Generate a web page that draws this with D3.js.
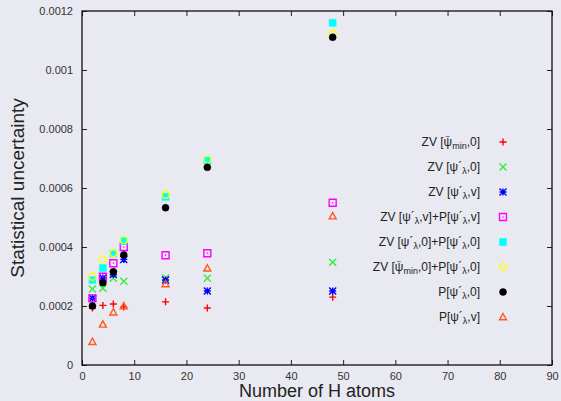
<!DOCTYPE html>
<html>
<head>
<meta charset="utf-8">
<script src="https://cdn.jsdelivr.net/npm/d3@7"></script>
<style>
  body { margin: 0; background: #e9e9f1; }
  svg { display: block; font-family: "Liberation Sans", Arial, sans-serif; }
</style>
</head>
<body>
<div id="chart"></div>
<script>
// x values: number of H atoms
var hAtoms = [2, 4, 6, 8, 16, 24, 48]

// one array per series (statistical uncertainty)
var zvMin0     = [0.000193, 0.000202, 0.000207, 0.000197, 0.000214, 0.000193, 0.000230]
var zvLam0     = [0.000258, 0.000260, 0.000294, 0.000284, 0.000295, 0.000294, 0.000348]
var zvLamV     = [0.000226, 0.000295, 0.000307, 0.000358, 0.000288, 0.000251, 0.000251]
var zvLamVP    = [0.000226, 0.000299, 0.000345, 0.000400, 0.000372, 0.000379, 0.000550]
var zvLam0P    = [0.000288, 0.000329, 0.000378, 0.000420, 0.000570, 0.000693, 0.001160]
var zvMin0P    = [0.000299, 0.000358, 0.000379, 0.000424, 0.000577, 0.000697, 0.001122]
var pLam0      = [0.000200, 0.000279, 0.000316, 0.000373, 0.000533, 0.000670, 0.001111]
var pLamV      = [0.000079, 0.000138, 0.000179, 0.000200, 0.000275, 0.000328, 0.000505]

// "~" before ψ marks a tilde accent, _{..} is a subscript
var seriesNames = [
  "ZV [~ψ_{min},0]",
  "ZV [ψ´_{λ},0]",
  "ZV [ψ´_{λ},v]",
  "ZV [ψ´_{λ},v]+P[ψ´_{λ},v]",
  "ZV [ψ´_{λ},0]+P[ψ´_{λ},0]",
  "ZV [~ψ_{min},0]+P[ψ´_{λ},0]",
  "P[ψ´_{λ},0]",
  "P[ψ´_{λ},v]"
]
var seriesValues = [zvMin0, zvLam0, zvLamV, zvLamVP, zvLam0P, zvMin0P, pLam0, pLamV]
var markerTypes = ["plus", "cross", "star", "boxOpen", "boxFilled", "circleOpen", "circleFilled", "triangleOpen"]
var colors = ["#ff0000", "#33ee33", "#0000ff", "#ff00ff", "#00ffff", "#ffff00", "#000000", "#ff5a1e"]

var xTicks = [0, 10, 20, 30, 40, 50, 60, 70, 80, 90]
var yTicks = [0, 0.0002, 0.0004, 0.0006, 0.0008, 0.001, 0.0012]

// dimensions
var W = 561, H = 401
var margin = {top: 11, right: 9, bottom: 36, left: 82}
var width = W - margin.left - margin.right
var height = H - margin.top - margin.bottom

var svg = d3.select("#chart").append("svg")
  .attr("width", W)
  .attr("height", H)

var g = svg.append("g").attr("transform", `translate(${margin.left},${margin.top})`)

var x = d3.scaleLinear().domain([0, 90]).range([0, width])
var y = d3.scaleLinear().domain([0, 0.0012]).range([height, 0])

// axes with inward ticks
var tickLen = 5
g.append("g")
  .attr("transform", `translate(0,${height})`)
  .call(d3.axisBottom(x).tickValues(xTicks).tickSizeInner(-tickLen).tickSizeOuter(0).tickPadding(7).tickFormat(d3.format("d")))
g.append("g")
  .call(d3.axisTop(x).tickValues(xTicks).tickSizeInner(-tickLen).tickSizeOuter(0).tickFormat(""))
g.append("g")
  .call(d3.axisLeft(y).tickValues(yTicks).tickSizeInner(-tickLen).tickSizeOuter(0).tickPadding(9).tickFormat(d => d === 0 ? "0" : String(+d.toFixed(4))))
g.append("g")
  .attr("transform", `translate(${width},0)`)
  .call(d3.axisRight(y).tickValues(yTicks).tickSizeInner(-tickLen).tickSizeOuter(0).tickFormat(""))

g.selectAll(".domain").remove()
g.selectAll(".tick line").attr("stroke", "#222").attr("stroke-width", 1)
g.selectAll(".tick text").attr("fill", "#333").style("font-size", "11px")

// frame
g.append("rect")
  .attr("width", width)
  .attr("height", height)
  .attr("fill", "none")
  .attr("stroke", "#111")
  .attr("stroke-width", 1.3)

// axis titles
svg.append("text")
  .attr("x", margin.left + width / 2)
  .attr("y", H - 4)
  .attr("text-anchor", "middle")
  .attr("fill", "#222")
  .style("font-size", "18px")
  .text("Number of H atoms")

svg.append("text")
  .attr("transform", `translate(24,${margin.top + height / 2}) rotate(-90)`)
  .attr("text-anchor", "middle")
  .attr("fill", "#222")
  .style("font-size", "19px")
  .text("Statistical uncertainty")

// marker shapes
function markerPath(type, s) {
  switch (type) {
    case "plus": return `M${-s},0H${s}M0,${-s}V${s}`
    case "cross": return `M${-s},${-s}L${s},${s}M${-s},${s}L${s},${-s}`
    case "star": return `M${-s},0H${s}M0,${-s}V${s}M${-s},${-s}L${s},${s}M${-s},${s}L${s},${-s}`
    case "boxOpen": return `M${-s},${-s}H${s}V${s}H${-s}Z M-0.5,0H0.5`
    case "boxFilled": return `M${-s},${-s}H${s}V${s}H${-s}Z`
    case "circleOpen": return d3.symbol(d3.symbolCircle, Math.PI * s * s)()
    case "circleFilled": return d3.symbol(d3.symbolCircle, Math.PI * s * s)()
    case "triangleOpen": return `M0,${-s}L${s},${s * 0.8}L${-s},${s * 0.8}Z`
  }
}
function isFilled(type) { return type === "boxFilled" || type === "circleFilled" }

function drawMarker(sel, type, color) {
  sel.append("path")
    .attr("d", markerPath(type, 3.5))
    .attr("fill", isFilled(type) ? color : "none")
    .attr("stroke", color)
    .attr("stroke-width", isFilled(type) ? 0.5 : 1.4)
}

// points
seriesValues.forEach(function(vals, i) {
  var sg = g.append("g")
  vals.forEach(function(v, j) {
    var p = sg.append("g").attr("transform", `translate(${x(hAtoms[j])},${y(v)})`)
    drawMarker(p, markerTypes[i], colors[i])
  })
})

// legend labels: subscripts and a tilde over psi
function addLabel(textSel, label) {
  var parts = label.split(/(_\{[^}]*\}|~ψ)/)
  parts.forEach(function(part) {
    if (!part) return
    if (part.startsWith("_{")) {
      textSel.append("tspan").attr("baseline-shift", "-30%").style("font-size", "9px").text(part.slice(2, -1))
    } else if (part === "~ψ") {
      textSel.append("tspan").attr("dx", 1.6).attr("dy", -7.5).style("font-size", "8px").text("~")
      textSel.append("tspan").attr("dx", -6.3).attr("dy", 7.5).text("ψ")
    } else {
      textSel.append("tspan").text(part)
    }
  })
}

var legendX = 480, legendY0 = 142, legendStep = 25
seriesNames.forEach(function(name, i) {
  var ly = legendY0 + i * legendStep
  var t = svg.append("text")
    .attr("x", legendX)
    .attr("y", ly + 4)
    .attr("text-anchor", "end")
    .attr("fill", "#222")
    .style("font-size", "12px")
  addLabel(t, name)
  var m = svg.append("g").attr("transform", `translate(503,${ly})`)
  drawMarker(m, markerTypes[i], colors[i])
})
</script>
</body>
</html>
